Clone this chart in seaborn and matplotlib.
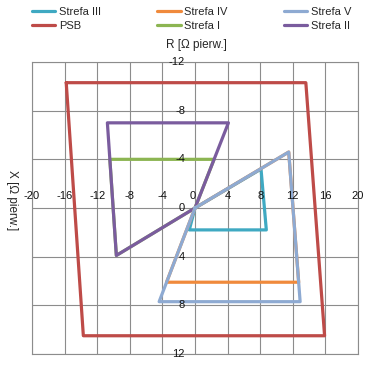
import pandas as pd
import matplotlib
matplotlib.use('Agg')
import matplotlib.pyplot as plt
import seaborn as sns

# polygon vertices of each zone, R and X in ohm (primary)
psb_r = [-15.8, 13.6, 15.9, -13.7, -15.8]
psb_x = [-10.3, -10.3, 10.5, 10.5, -10.3]
s1_r = [0, 2.34, -10.45, -9.65, 0]
s1_x = [0, -4.0, -4.0, 3.9, 0]
s2_r = [0, 4.1, -10.75, -9.65, 0]
s2_x = [0, -7.0, -7.0, 3.9, 0]
s3_r = [0, 8.1, 8.75, -0.7, 0]
s3_x = [0, -3.2, 1.8, 1.8, 0]
s4_r = [0, 11.5, 12.72, -3.49, 0]
s4_x = [0, -4.6, 6.1, 6.1, 0]
s5_r = [0, 11.5, 12.9, -4.4, 0]
s5_x = [0, -4.6, 7.7, 7.7, 0]

names = ['PSB', 'Strefa I', 'Strefa II', 'Strefa III', 'Strefa IV', 'Strefa V']
colors = ['#BE4B48', '#8CB552', '#7A5C9E', '#3FA9C2', '#F08A3C', '#8EAAD2']
x_ticks = [-20, -16, -12, -8, -4, 0, 4, 8, 12, 16, 20]
y_ticks = [-12, -8, -4, 0, 4, 8, 12]

frames = []
for n, r, x in zip(names, [psb_r, s1_r, s2_r, s3_r, s4_r, s5_r],
                   [psb_x, s1_x, s2_x, s3_x, s4_x, s5_x]):
    frames.append(pd.DataFrame({'R': r, 'X': x, 'strefa': n}))
df = pd.concat(frames, ignore_index=True)

sns.set_theme(style='white')
plt.rcParams['font.family'] = ['Liberation Sans', 'DejaVu Sans']

fig = plt.figure(figsize=(3.76, 3.65), dpi=100)
ax = fig.add_axes([32 / 376, 1 - 354 / 365, 326 / 376, 292 / 365])

sns.lineplot(data=df, x='R', y='X', hue='strefa', hue_order=names,
             palette=dict(zip(names, colors)), sort=False, estimator=None,
             units='strefa', linewidth=2.3, ax=ax)

ax.set_xlim(-20, 20)
ax.set_ylim(12, -12)
ax.set_xticks(x_ticks)
ax.set_yticks(y_ticks)
ax.grid(True, color='#8c8c8c', linewidth=0.8)
ax.set_axisbelow(True)
ax.tick_params(length=0, labelbottom=False, labelleft=False)
for s in ax.spines.values():
    s.set_color('#8c8c8c')
    s.set_linewidth(0.8)
ax.set_xlabel('')
ax.set_ylabel('')

# tick labels along the axes crossing at the origin
for t in x_ticks:
    ax.annotate(str(t), (t, 0), xytext=(-2 if t == 0 else 0, 12), textcoords='offset pixels',
                ha='center', va='center', fontsize=8, color='#111111')
for t in y_ticks:
    ax.annotate(str(t), (0, t), xytext=(-10, 0), textcoords='offset pixels',
                ha='right', va='center', fontsize=8, color='#111111')

fig.text(196 / 376, 1 - 45 / 365, 'R [Ω pierw.]', ha='center', va='center', fontsize=8.5)
fig.text(12 / 376, 1 - 200 / 365, 'X [Ω pierw.]', ha='center', va='center',
         rotation=270, fontsize=8.5)

handles, labels = ax.get_legend_handles_labels()
ax.get_legend().remove()
order = [3, 0, 4, 1, 5, 2]
leg = fig.legend([handles[i] for i in order], [labels[i] for i in order],
                 loc='upper left', bbox_to_anchor=(32 / 376, 1 - 7 / 365), ncol=3,
                 frameon=False, fontsize=8, borderpad=0, borderaxespad=0,
                 handlelength=2.1, handletextpad=0.3, columnspacing=5.1,
                 labelspacing=0.35)
for h in leg.get_lines():
    h.set_linewidth(2.3)

fig.savefig('out.png', dpi=100)
